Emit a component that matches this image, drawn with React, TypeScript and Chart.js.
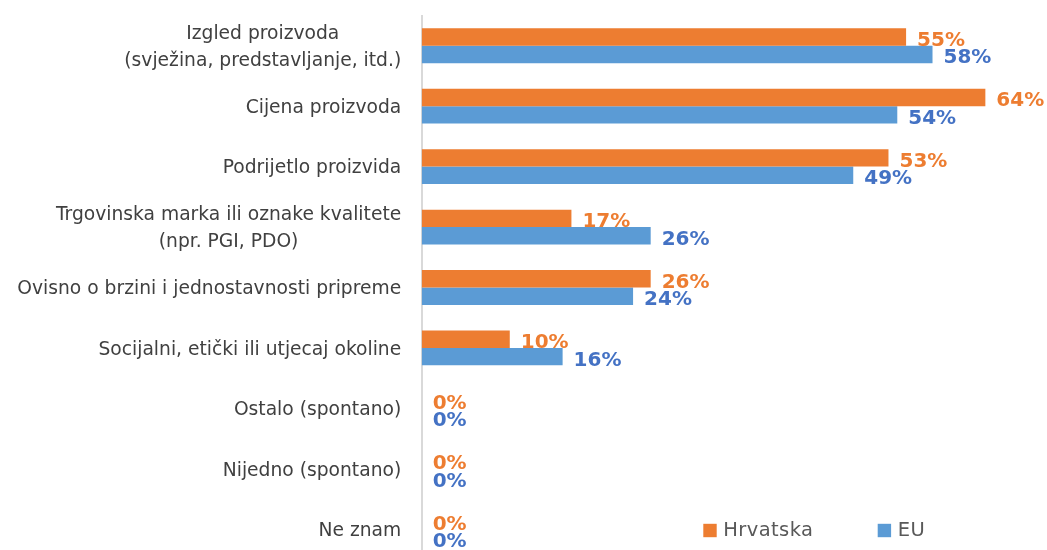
import React, { useEffect, useRef } from "react";
import { Chart, registerables } from "chart.js";

Chart.register(...registerables);

const categories: string[][] = [
  ["Izgled proizvoda", "(svježina, predstavljanje, itd.)"],
  ["Cijena proizvoda"],
  ["Podrijetlo proizvida"],
  ["Trgovinska marka ili oznake kvalitete", "(npr. PGI, PDO)"],
  ["Ovisno o brzini i jednostavnosti pripreme"],
  ["Socijalni, etički ili utjecaj okoline"],
  ["Ostalo (spontano)"],
  ["Nijedno (spontano)"],
  ["Ne znam"],
];

const seriesNames = ["Hrvatska", "EU"];
const hrvatska = [55, 64, 53, 17, 26, 10, 0, 0, 0];
const eu = [58, 54, 49, 26, 24, 16, 0, 0, 0];

const barColors = ["#ED7D31", "#5B9BD5"];
const labelColors = ["#ED7D31", "#4472C4"];

const FONT = "'DejaVu Sans', sans-serif";

const categoryLabelPlugin = {
  id: "categoryLabels",
  afterDraw(chart: any) {
    const ctx = chart.ctx;
    const yScale = chart.scales.y;
    const right = chart.chartArea.left - 20.5;
    const lineH = 26.7;
    ctx.save();
    ctx.font = `18.7px ${FONT}`;
    ctx.fillStyle = "#404040";
    ctx.textBaseline = "alphabetic";
    categories.forEach((lines, i) => {
      const cy = yScale.getPixelForValue(i);
      const widths = lines.map((l) => ctx.measureText(l).width);
      const maxW = Math.max(...widths);
      const centerX = right - maxW / 2;
      lines.forEach((line, j) => {
        const y = cy + 6.7 + (j - (lines.length - 1) / 2) * lineH;
        ctx.textAlign = "center";
        ctx.fillText(line, centerX, y);
      });
    });
    ctx.restore();
  },
};

const dataLabelPlugin = {
  id: "dataLabels",
  afterDatasetsDraw(chart: any) {
    const ctx = chart.ctx;
    ctx.save();
    ctx.font = `bold 20px ${FONT}`;
    ctx.textAlign = "left";
    ctx.textBaseline = "alphabetic";
    chart.data.datasets.forEach((ds: any, di: number) => {
      const meta = chart.getDatasetMeta(di);
      ctx.fillStyle = labelColors[di];
      meta.data.forEach((bar: any, i: number) => {
        const v = ds.data[i];
        ctx.fillText(`${v}%`, bar.x + 11, bar.y + 9);
      });
    });
    ctx.restore();
  },
};

const legendPlugin = {
  id: "customLegend",
  afterDraw(chart: any) {
    const ctx = chart.ctx;
    const area = chart.chartArea;
    const cy = area.bottom - 29;
    const starts = [area.left + 281.6, area.left + 456];
    ctx.save();
    ctx.font = `19.5px ${FONT}`;
    try {
      (ctx as any).letterSpacing = "0.4px";
    } catch (e) {}
    ctx.textAlign = "left";
    ctx.textBaseline = "alphabetic";
    seriesNames.forEach((name, i) => {
      const x = starts[i];
      ctx.fillStyle = barColors[i];
      ctx.fillRect(x, cy - 6.7, 13.4, 13.4);
      ctx.fillStyle = "#595959";
      ctx.fillText(name, x + 20, cy + 5.5);
    });
    ctx.restore();
  },
};

export default function App() {
  const canvasRef = useRef<HTMLCanvasElement | null>(null);

  useEffect(() => {
    if (!canvasRef.current) return;
    const chart = new Chart(canvasRef.current, {
      type: "bar",
      data: {
        labels: categories.map((c) => c.join(" ")),
        datasets: [
          {
            label: seriesNames[0],
            data: hrvatska,
            backgroundColor: barColors[0],
            categoryPercentage: 0.576,
            barPercentage: 1,
          },
          {
            label: seriesNames[1],
            data: eu,
            backgroundColor: barColors[1],
            categoryPercentage: 0.576,
            barPercentage: 1,
          },
        ],
      },
      options: {
        indexAxis: "y",
        responsive: false,
        animation: false,
        layout: { padding: { top: 15.5, bottom: 0.5, right: 8.8, left: 0 } },
        plugins: {
          legend: { display: false },
          tooltip: { enabled: false },
        },
        scales: {
          x: { display: false, min: 0, max: 70 },
          y: {
            grid: { display: false, drawTicks: false },
            border: { display: true, color: "#D9D9D9", width: 2 },
            ticks: { display: false },
            afterFit: (scale: any) => {
              scale.width = 421.7;
              scale.paddingTop = 0;
              scale.paddingBottom = 0;
            },
          },
        },
      },
      plugins: [categoryLabelPlugin, dataLabelPlugin, legendPlugin],
    });
    return () => chart.destroy();
  }, []);

  return (
    <div
      style={{
        position: "fixed",
        left: 0,
        top: 0,
        width: 1047,
        height: 560,
        background: "#fff",
      }}
    >
      <canvas ref={canvasRef} width={1047} height={560} style={{ display: "block" }} />
    </div>
  );
}
